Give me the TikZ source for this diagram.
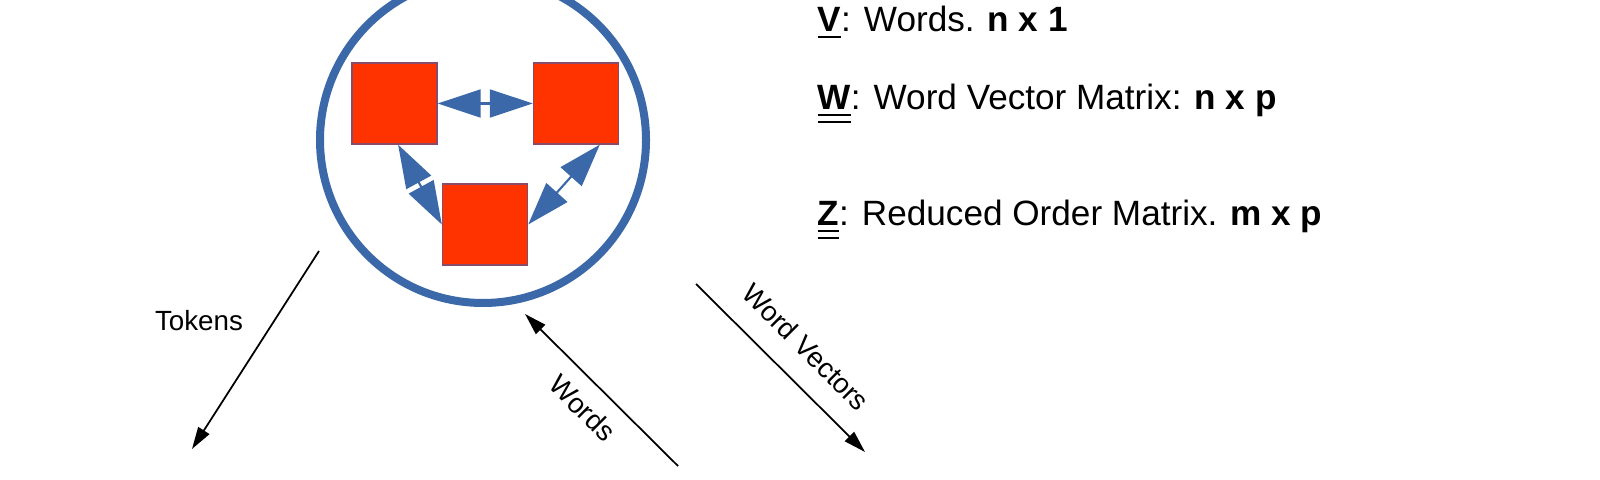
\documentclass[tikz,border=0pt]{standalone}
\usepackage{fontspec}
\setmainfont{Liberation Sans}
\usetikzlibrary{arrows.meta,calc}
\definecolor{ringblue}{HTML}{3A68A8}
\definecolor{boxred}{HTML}{FF3300}
\definecolor{boxedge}{HTML}{8A4A6A}

\begin{document}
\begin{tikzpicture}[
    box/.style={draw=boxedge, line width=0.4pt, fill=boxred, minimum width=0.85cm, minimum height=0.81cm, inner sep=0pt},
    link/.style={ringblue, line width=0.6pt, {Triangle[length=0.43cm,width=0.28cm]}-{Triangle[length=0.43cm,width=0.28cm]}},
    flow/.style={line width=0.5pt, -{Triangle[length=0.22cm,width=0.13cm]}},
    lbl/.style={font=\fontsize{7.9pt}{9pt}\selectfont},
    legend/.style={anchor=base west, inner sep=0pt, font=\fontsize{10pt}{12pt}\selectfont}
]
    \useasboundingbox (0,0) rectangle (16,4.8);
    \fill[white] (0,0) rectangle (16,4.8);
    \clip (0,0) rectangle (16,4.8);

    % Draw the ring round the word cluster
    \node[circle, draw=ringblue, line width=0.08cm, minimum size=3.26cm, inner sep=0pt] (ring) at (4.83,3.40) {};

    % Draw the three words (red squares)
    \node[box] (wordA) at (3.945,3.765) {};
    \node[box] (wordB) at (5.76,3.765) {};
    \node[box] (wordC) at (4.85,2.555) {};

    % Two-way links between the words
    \draw[link] (wordA.east) -- (wordB.west);
    \draw[link] (wordA.-85) -- (wordC.west);
    \draw[link] (wordB.-60) -- (wordC.east);

    % Legend on the right
    \node[legend] (legV) at (8.17,4.48) {\underline{\textbf{V}}: Words. \textbf{n x 1}};
    \node[legend] (legW) at (8.17,3.70) {\underline{\underline{\textbf{W}}}: Word Vector Matrix: \textbf{n x p}};
    \node[legend] (legZ) at (8.17,2.54) {\underline{\underline{\textbf{Z}}}: Reduced Order Matrix. \textbf{m x p}};

    % Free ends of the outer arrows
    \coordinate (tokFrom) at (3.19,2.29);
    \coordinate (tokTo) at (1.92,0.31);
    \coordinate (wrdFrom) at (6.78,0.14);
    \coordinate (wrdTo) at (5.25,1.66);
    \coordinate (vecFrom) at (6.96,1.96);
    \coordinate (vecTo) at (8.65,0.28);

    % Outer arrows with their labels
    \draw[flow] (tokFrom) -- (tokTo);
    \node[lbl] (tokLbl) at (1.99,1.59) {Tokens};

    \draw[flow] (wrdFrom) -- (wrdTo);
    \node[lbl, rotate=-45] (wrdLbl) at (5.83,0.72) {Words};

    \draw[flow] (vecFrom) -- (vecTo);
    \node[lbl, rotate=-45] (vecLbl) at (8.06,1.33) {Word Vectors};
\end{tikzpicture}
\end{document}
